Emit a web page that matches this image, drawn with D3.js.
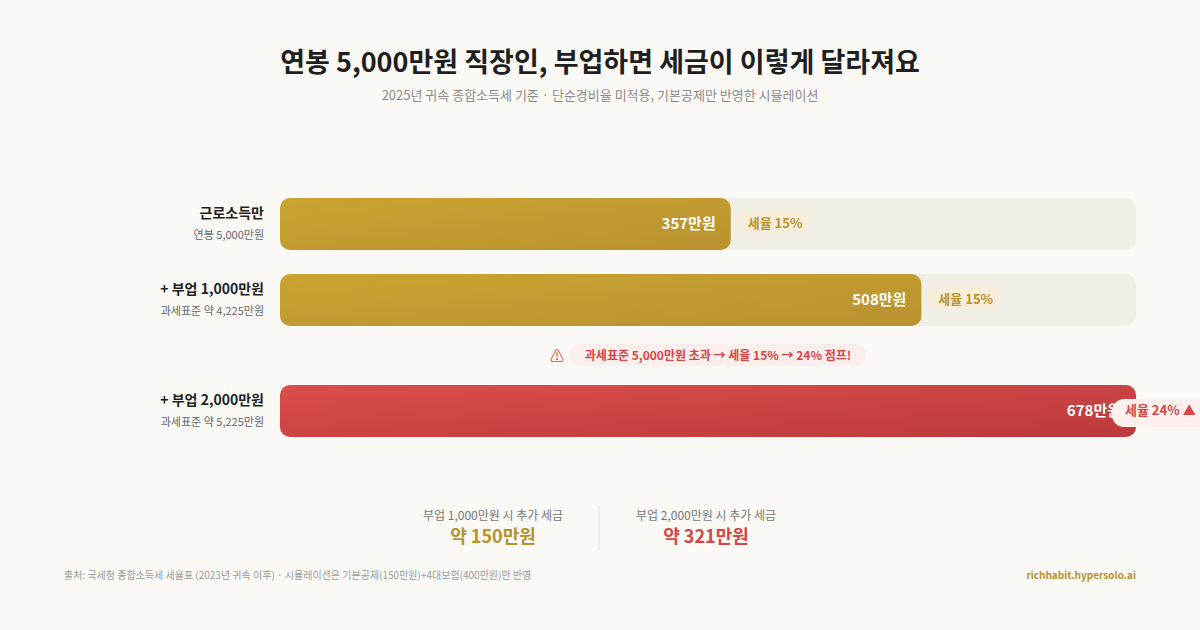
<!DOCTYPE html>
<html><head><meta charset="utf-8">
<script src="https://cdn.jsdelivr.net/npm/d3@7"></script>
<style>
body{margin:0;background:#faf9f6;font-family:"Noto Sans CJK KR","Noto Sans",sans-serif;}
</style></head><body>
<svg id="chart" width="1200" height="630"></svg>
<script>
const labels = ["근로소득만", "+ 부업 1,000만원", "+ 부업 2,000만원"];
const subLabels = ["연봉 5,000만원", "과세표준 약 4,225만원", "과세표준 약 5,225만원"];
const taxes = [357, 508, 678];
const rates = ["세율 15%", "세율 15%", "세율 24%"];
const extras = [
  {label: "부업 1,000만원 시 추가 세금", value: "약 150만원", color: "#b8922a"},
  {label: "부업 2,000만원 시 추가 세금", value: "약 321만원", color: "#d64545"}
];

const svg = d3.select("#chart");
const defs = svg.append("defs");
function grad(id, a, b) {
  const g = defs.append("linearGradient").attr("id", id)
    .attr("x1", "0%").attr("y1", "0%").attr("x2", "100%").attr("y2", "100%");
  g.append("stop").attr("offset", "0%").attr("stop-color", a);
  g.append("stop").attr("offset", "100%").attr("stop-color", b);
}
grad("gold", "#c9a431", "#b9922f");
grad("red", "#dc4d4d", "#bb3a3c");

svg.append("text").attr("x", 600).attr("y", 72).attr("text-anchor", "middle")
  .style("font-size", "27px").style("font-weight", 700).attr("fill", "#1f1f1f")
  .text("연봉 5,000만원 직장인, 부업하면 세금이 이렇게 달라져요");
svg.append("text").attr("x", 600).attr("y", 100).attr("text-anchor", "middle")
  .style("font-size", "13px").attr("fill", "#8a8a8a")
  .text("2025년 귀속 종합소득세 기준 · 단순경비율 미적용, 기본공제만 반영한 시뮬레이션");

const x = d3.scaleLinear().domain([0, 678]).range([280, 1136]);
const rowY = [198, 274, 385];
const h = 52;

taxes.forEach((v, i) => {
  const y = rowY[i], red = i === 2;
  svg.append("rect").attr("x", x(0)).attr("y", y).attr("width", x(678) - x(0)).attr("height", h)
    .attr("rx", 10).attr("fill", "#f1eee6");
  svg.append("rect").attr("x", x(0)).attr("y", y).attr("width", x(v) - x(0)).attr("height", h)
    .attr("rx", 10).attr("fill", red ? "url(#red)" : "url(#gold)");
  svg.append("text").attr("x", 264).attr("y", y + 20).attr("text-anchor", "end")
    .style("font-size", "14px").style("font-weight", 700).attr("fill", "#1f1f1f").text(labels[i]);
  svg.append("text").attr("x", 264).attr("y", y + 41).attr("text-anchor", "end")
    .style("font-size", "11px").attr("fill", "#666").text(subLabels[i]);
  svg.append("text").attr("x", x(v) - 15).attr("y", y + 31).attr("text-anchor", "end")
    .style("font-size", "15px").style("font-weight", 700).attr("fill", "#fff").text(v + "만원");
  const px = red ? x(v) - 24 : x(v) + 4, pw = red ? 100 : 76;
  svg.append("rect").attr("x", px).attr("y", y + 11 + (red ? 3 : 0)).attr("width", pw).attr("height", red ? 28 : 24)
    .attr("rx", 12).attr("fill", red ? "#fdf0ef" : "#f6eeda");
  svg.append("text").attr("x", px + 13).attr("y", y + 30).style("font-size", "13px").style("font-weight", 700)
    .attr("fill", red ? "#d64545" : "#b8922a").text(red ? rates[i] + " ▲" : rates[i]);
});

// warning line
svg.append("text").attr("x", 557).attr("y", 361).attr("text-anchor", "middle")
  .style("font-size", "14px").attr("fill", "#d64545").text("⚠");
svg.append("rect").attr("x", 570).attr("y", 344).attr("width", 296).attr("height", 22).attr("rx", 11).attr("fill", "#fdeeee");
svg.append("text").attr("x", 718).attr("y", 360).attr("text-anchor", "middle")
  .style("font-size", "12px").style("font-weight", 700).attr("fill", "#d64545")
  .text("과세표준 5,000만원 초과 → 세율 15% → 24% 점프!");

// summary
const sx = [493, 706];
extras.forEach((e, i) => {
  svg.append("text").attr("x", sx[i]).attr("y", 520).attr("text-anchor", "middle")
    .style("font-size", "12px").attr("fill", "#777").text(e.label);
  svg.append("text").attr("x", sx[i]).attr("y", 543).attr("text-anchor", "middle")
    .style("font-size", "18px").style("font-weight", 700).attr("fill", e.color).text(e.value);
});
svg.append("line").attr("x1", 599).attr("x2", 599).attr("y1", 506).attr("y2", 550).attr("stroke", "#e2e0da");

svg.append("text").attr("x", 64).attr("y", 579).style("font-size", "10px").attr("fill", "#999")
  .text("출처: 국세청 종합소득세 세율표 (2023년 귀속 이후) · 시뮬레이션은 기본공제(150만원)+4대보험(400만원)만 반영");
svg.append("text").attr("x", 1136).attr("y", 579).attr("text-anchor", "end").style("font-size", "10px")
  .style("font-weight", 700).attr("fill", "#b8922a").text("richhabit.hypersolo.ai");
</script></body></html>
